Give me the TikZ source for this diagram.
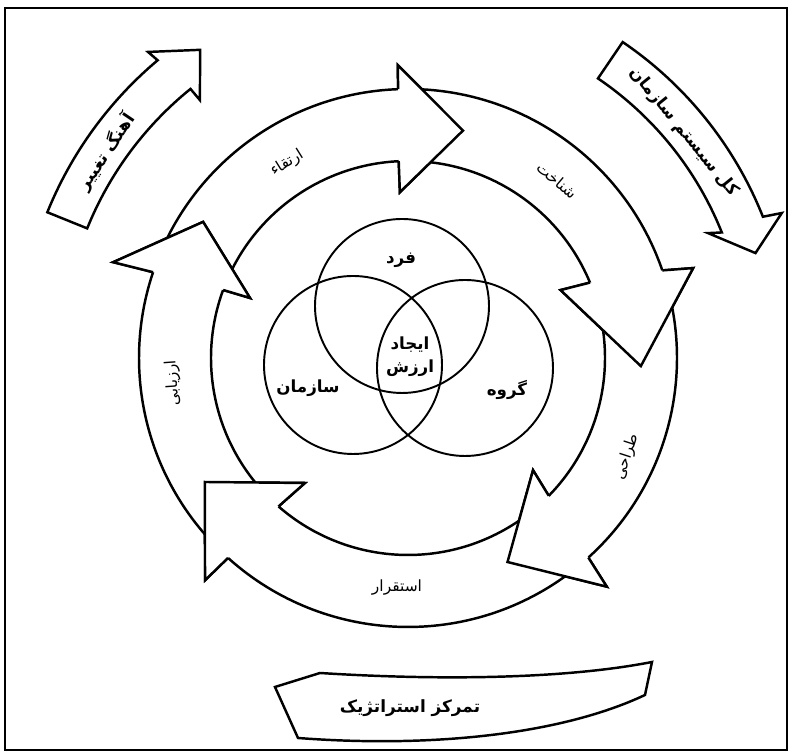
\documentclass[tikz,border=0pt]{standalone}
\usepackage{fontspec}
\newfontfamily\fa[Script=Arabic]{DejaVu Sans}
\TeXXeTstate=1
\begin{document}
\begin{tikzpicture}[x=0.02cm,y=0.02cm,
  band/.style={draw=black,fill=white,line width=1.4pt,line join=miter},
  headline/.style={draw=black,line width=1.4pt,line join=miter},
  venn/.style={draw=black,line width=1.1pt},
  vlbl/.style={font=\fa\bfseries\fontsize{9.5}{13}\selectfont,inner sep=0pt,align=center},
  rlbl/.style={font=\fa\fontsize{8.8}{10}\selectfont,inner sep=0pt},
  olbl/.style={font=\fa\bfseries\fontsize{9.6}{12}\selectfont,inner sep=0pt}]
\useasboundingbox (0,0) rectangle (789,756);
\draw[line width=0.9pt] (5,6) rectangle (787,748);

% Venn
\draw[venn] (402,450) circle[radius=87];
\draw[venn] (353,391) circle[radius=89];
\draw[venn] (465,388) circle[radius=88];
\node[vlbl] (fard) at (401,496) {\beginR فرد\endR};
\node[vlbl] (ijad) at (410,399) {\beginR ایجاد\endR\\\beginR ارزش\endR};
\node[vlbl] (sazman) at (308,368) {\beginR سازمان\endR};
\node[vlbl] (goruh) at (507,366) {\beginR گروه\endR};

% ring arrows
\begin{scope}[shift={(408,398)}]
\path[band] (156:269) arc[start angle=156,end angle=92.1,radius=269] -- (92:293) -- (76.4:234) -- (92.8:166) -- (92.7:197) arc[start angle=92.7,end angle=156,radius=197] -- cycle;
\path[band] (88:269) arc[start angle=88,end angle=19,radius=269] -- (17.5:299) -- (-2:233) -- (24:167) -- (22.5:197) arc[start angle=22.5,end angle=88,radius=197] -- cycle;
\path[band] (16:269) arc[start angle=16,end angle=-47.9,radius=269] -- (-49:303) -- (-64:227) -- (-41.9:168) -- (-44.4:197) arc[start angle=-44.4,end angle=16,radius=197] -- cycle;
\path[band] (308:269) arc[start angle=308,end angle=228,radius=269] -- (227.6:301) -- (211.4:238) -- (230.5:162) -- (228.9:197) arc[start angle=228.9,end angle=308,radius=197] -- cycle;
\path[band] (224:269) arc[start angle=224,end angle=161.4,radius=269] -- (162:310) -- (146.4:246) -- (159.2:169) -- (159.8:197) arc[start angle=159.8,end angle=224,radius=197] -- cycle;
% heads on top
\fill[white] (92.1:269) -- (92:293) -- (76.4:234) -- (92.8:166) -- (92.7:197) -- cycle;
\draw[headline] (92.1:269) -- (92:293) -- (76.4:234) -- (92.8:166) -- (92.7:197);
\fill[white] (19:269) -- (17.5:299) -- (-2:233) -- (24:167) -- (22.5:197) -- cycle;
\draw[headline] (19:269) -- (17.5:299) -- (-2:233) -- (24:167) -- (22.5:197);
\fill[white] (-47.9:269) -- (-49:303) -- (-64:227) -- (-41.9:168) -- (-44.4:197) -- cycle;
\draw[headline] (-47.9:269) -- (-49:303) -- (-64:227) -- (-41.9:168) -- (-44.4:197);
\fill[white] (228:269) -- (227.6:301) -- (211.4:238) -- (230.5:162) -- (228.9:197) -- cycle;
\draw[headline] (228:269) -- (227.6:301) -- (211.4:238) -- (230.5:162) -- (228.9:197);
\fill[white] (161.4:269) -- (162:310) -- (146.4:246) -- (159.2:169) -- (159.8:197) -- cycle;
\draw[headline] (161.4:269) -- (162:310) -- (146.4:246) -- (159.2:169) -- (159.8:197);

% outer arrows
\path[band] (158:389) arc[start angle=158,end angle=130.06,radius=389] -- (130.35:401.6) -- (124:371.7) -- (128.9:331.4) -- (128.95:346) arc[start angle=128.95,end angle=158,radius=346] -- cycle;
\path[band] (55.8:382) arc[start angle=55.8,end angle=21.7,radius=382] -- (21.2:401) -- (16.8:363) -- (22.6:325) -- (21.8:338) arc[start angle=21.8,end angle=55.8,radius=338] -- cycle;
\end{scope}

\path[band] (275,69) -- (320,83) .. controls (430,76) and (560,76) .. (652,94) -- (645,61) .. controls (560,21) and (430,8) .. (298,18) -- cycle;

% labels
\node[rlbl,rotate=32] (irtiqa) at (287,593) {\beginR ارتقاء\endR};
\node[rlbl,rotate=-40] (shenakht) at (557,576) {\beginR شناخت\endR};
\node[rlbl,rotate=72] (tarahi) at (627,299) {\beginR طراحی\endR};
\node[rlbl] (esteqrar) at (397,168) {\beginR استقرار\endR};
\node[rlbl,rotate=94] (arzyabi) at (173,373) {\beginR ارزیابی\endR};
\node[olbl,rotate=56] (ahang) at (106,604) {\beginR آهنگ تغییر\endR};
\node[olbl,rotate=-51] (koll) at (684,624) {\beginR کل سیستم سازمان\endR};
\node[olbl] (tamarkoz) at (410,48) {\beginR تمرکز استراتژیک\endR};
\end{tikzpicture}
\end{document}
